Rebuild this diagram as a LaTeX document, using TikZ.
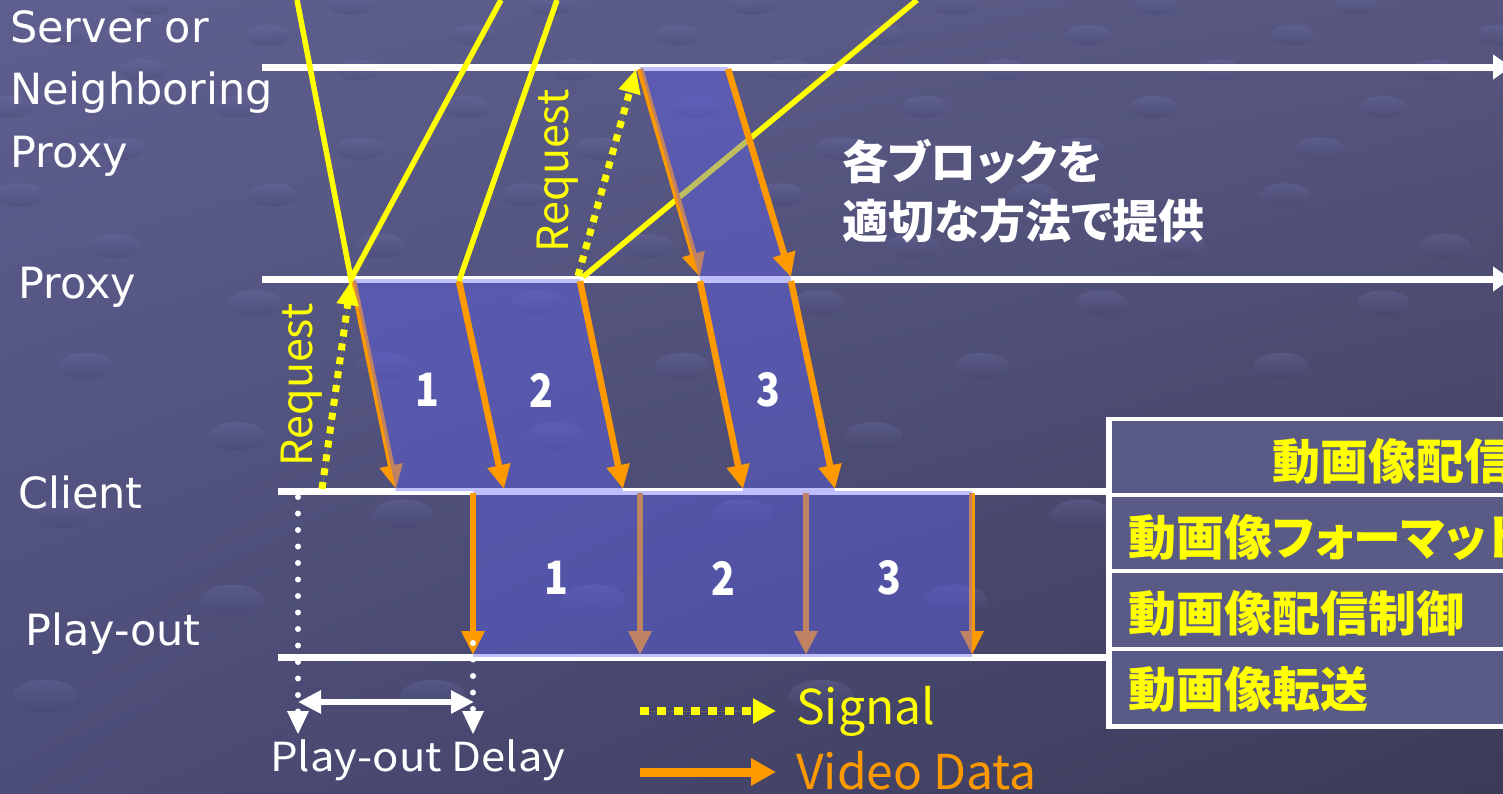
\documentclass[tikz,border=0pt]{standalone}
\usepackage{fontspec}
\setmainfont{DejaVu Sans}
\newfontfamily\jp{Noto Sans CJK JP}[RawFeature=+palt]
\usetikzlibrary{arrows.meta,calc,shadings}
\definecolor{bgUL}{HTML}{5E5F8F}
\definecolor{bgUR}{HTML}{56567F}
\definecolor{bgLL}{HTML}{4C4C78}
\definecolor{bgLR}{HTML}{3B3B58}
\definecolor{blk}{RGB}{97,97,245}
\definecolor{org}{HTML}{FF9900}
\definecolor{ylw}{HTML}{FFFF00}
\definecolor{rowfill}{RGB}{90,90,135}
\definecolor{dotlt}{HTML}{7476B0}
\definecolor{dotdk}{HTML}{40406A}
\tikzset{
  wline/.style={draw=white, line width=7pt},
  warr/.style={wline, -{Triangle[width=24pt,length=18pt]}},
  yline/.style={draw=ylw, line width=5.5pt},
  ysig/.style={draw=ylw, fill=ylw, line width=7pt, dash pattern=on 7pt off 7pt, -{Triangle[width=21pt,length=24pt]}},
  oarr/.style={draw=org, fill=org, line width=6.5pt, -{Triangle[width=22pt,length=24pt]}},
  blockfill/.style={fill=blk, fill opacity=0.4, draw=none},
  wdot/.style={draw=white, line width=6pt, line cap=round, dash pattern=on 0pt off 16.5pt},
  lbl/.style={text=white, font=\fontsize{43}{43}\selectfont, inner sep=0pt, anchor=base west},
  jtxt/.style={inner sep=0pt, font=\jp\fontsize{48}{48}\selectfont},
  num/.style={inner sep=0pt, text=white, font=\jp\bfseries\fontsize{46}{46}\selectfont, xscale=0.85},
  rowtxt/.style={inner sep=0pt, anchor=west, text=ylw, font=\jp\bfseries\fontsize{48}{48}\selectfont},
  rowbox/.style={fill=rowfill, draw=none},
  dotshape/.style={top color=dotlt, bottom color=dotdk, opacity=0.3}
}
\begin{document}
\begin{tikzpicture}[x=1pt,y=-1pt]
\useasboundingbox (0,0) rectangle (1503,793);
\clip (0,0) rectangle (1503,793);
% background
\shade[upper left=bgUL, upper right=bgUR, lower left=bgLL, lower right=bgLR] (0,0) rectangle (1503,793);
\foreach \yy/\ss/\ph in {5/201/150, 35/205/63, 70/215/143, 107/229/9, 149/240/120, 195/253/20, 246/266/115, 303/282/255, 366/299/85, 436/318/237, 514/339/64, 600/362/232, 696/388/45}{
  \pgfmathsetmacro\rx{22+0.015*\yy}
  \pgfmathsetmacro\ry{10+0.009*\yy}
  \foreach \n in {0,...,8}{
    \pgfmathsetmacro\xx{\ph+\n*\ss}
    \shade[dotshape] (\xx,\yy) ellipse [x radius=\rx pt, y radius=\ry pt];
  }
}
% coordinates
\coordinate (sL) at (262,67);  \coordinate (sR) at (1511,67);
\coordinate (pL) at (262,279); \coordinate (pR) at (1511,279);
\coordinate (cL) at (278,491); \coordinate (cR) at (1107,491);
\coordinate (oL) at (278,657); \coordinate (oR) at (1107,657);
% block corners
\coordinate (s1) at (640,67);  \coordinate (s2) at (728,67);
\coordinate (p1) at (353,279); \coordinate (p2) at (459,279); \coordinate (p3) at (580,279);
\coordinate (p4) at (700,279); \coordinate (p5) at (791,279);
\coordinate (c1) at (396,491); \coordinate (c2) at (504,491); \coordinate (c3) at (623,491);
\coordinate (c4) at (743,491); \coordinate (c5) at (835,491);
\coordinate (d1) at (473,491); \coordinate (d2) at (640,491); \coordinate (d3) at (806,491); \coordinate (d4) at (972,491);
\coordinate (e1) at (473,657); \coordinate (e2) at (640,657); \coordinate (e3) at (806,657); \coordinate (e4) at (972,657);
% timelines
\draw[warr] (sL) -- (sR);
\draw[warr] (pL) -- (pR);
\draw[wline] (cL) -- (cR);
\draw[wline] (oL) -- (oR);
% yellow line passing under block
\coordinate (yD0) at (583,277); \coordinate (yD1) at (917,0);
\draw[yline] (yD0) -- (yD1);
% arrows lying under blocks
\draw[oarr] ($(p1)+(0,2)$) -- ($(c1)+(0,-2)$);
\draw[oarr] ($(s1)+(0,2)$) -- ($(p4)+(0,-2)$);
\draw[oarr] ($(d2)+(0,2)$) -- ($(e2)+(0,-2)$);
\draw[oarr] ($(d3)+(0,2)$) -- ($(e3)+(0,-2)$);
\draw[oarr] ($(d4)+(0,2)$) -- ($(e4)+(0,-2)$);
% blocks
\path[blockfill] (s1) -- (s2) -- (p5) -- (p4) -- cycle;
\path[blockfill] (p1) -- (p2) -- (c2) -- (c1) -- cycle;
\path[blockfill] (p2) -- (p3) -- (c3) -- (c2) -- cycle;
\path[blockfill] (p4) -- (p5) -- (c5) -- (c4) -- cycle;
\path[blockfill] (d1) rectangle (e2);
\path[blockfill] (d2) rectangle (e3);
\path[blockfill] (d3) rectangle (e4);
% arrows over blocks
\draw[oarr] ($(p2)+(0,2)$) -- ($(c2)+(0,-2)$);
\draw[oarr] ($(p3)+(0,2)$) -- ($(c3)+(0,-2)$);
\draw[oarr] ($(s2)+(0,2)$) -- ($(p5)+(0,-2)$);
\draw[oarr] ($(p4)+(0,2)$) -- ($(c4)+(0,-2)$);
\draw[oarr] ($(p5)+(0,2)$) -- ($(c5)+(0,-2)$);
\draw[oarr] ($(d1)+(0,2)$) -- ($(e1)+(0,-2)$);
% yellow lines
\coordinate (yA0) at (297,0); \coordinate (yJ) at (351,279);
\coordinate (yB1) at (501,0);
\coordinate (yC0) at (459,281); \coordinate (yC1) at (557,0);
\draw[yline] (yA0) -- (yJ) -- (yB1);
\draw[yline] (yC0) -- (yC1);
% request signals
\coordinate (r1a) at (322,489); \coordinate (r1b) at (351,281);
\coordinate (r2a) at (578,276); \coordinate (r2b) at (636,69);
\draw[ysig] (r1a) -- (r1b);
\draw[ysig] (r2a) -- (r2b);
\node[jtxt, text=ylw, rotate=90, font=\jp\fontsize{43}{43}\selectfont] (req1) at (302,385) {Request};
\node[jtxt, text=ylw, rotate=90, font=\jp\fontsize{43}{43}\selectfont] (req2) at (558,171) {Request};
% block numbers
\node[num] (n1) at (427,390) {1};
\node[num] (n2) at (541,390) {2};
\node[num] (n3) at (768,390) {3};
\node[num] (m1) at (556,578) {1};
\node[num] (m2) at (723,578) {2};
\node[num] (m3) at (889,578) {3};
% left labels
\node[lbl] (srv1) at (10,42) {Server or};
\node[lbl] (srv2) at (10,104) {Neighboring};
\node[lbl] (srv3) at (10,167) {Proxy};
\node[lbl] (prx) at (18,298) {Proxy};
\node[lbl] (cli) at (18,508) {Client};
\node[lbl] (ply) at (25,645) {Play-out};
% japanese note
\node[inner sep=0pt, anchor=west, text=white, font=\jp\bfseries\fontsize{46}{46}\selectfont] (note1) at (842,162) {各ブロックを};
\node[inner sep=0pt, anchor=west, text=white, font=\jp\bfseries\fontsize{46}{46}\selectfont] (note2) at (842,221) {適切な方法で提供};
% play-out delay
\coordinate (dlA) at (298,497); \coordinate (dlB) at (298,734);
\coordinate (drA) at (473,643); \coordinate (drB) at (473,734);
\draw[wdot] (dlA) -- ($(dlB)+(0,-22)$);
\draw[wdot] (drA) -- ($(drB)+(0,-22)$);
\fill[white] (dlB) -- ++(-11,-23) -- ++(22,0) -- cycle;
\fill[white] (drB) -- ++(-11,-23) -- ++(22,0) -- cycle;
\coordinate (hA) at (298,702); \coordinate (hB) at (474,702);
\draw[draw=white, line width=6pt, {Triangle[width=22pt,length=23pt]}-{Triangle[width=22pt,length=23pt]}] (hA) -- (hB);
\node[jtxt, anchor=west, text=white, font=\jp\fontsize{40}{40}\selectfont, xscale=1.09] (pod) at (270,760) {Play-out Delay};
% table
\fill[white] (1106,417) rectangle (1515,729);
\path[rowbox] (1112,421) rectangle (1515,493);
\path[rowbox] (1112,497) rectangle (1515,569);
\path[rowbox] (1112,573) rectangle (1515,647);
\path[rowbox] (1112,651) rectangle (1515,724);
\node[rowtxt] (t1) at (1272,461) {動画像配信};
\node[rowtxt] (t2) at (1128,537) {動画像フォーマット};
\node[rowtxt] (t3) at (1128,613) {動画像配信制御};
\node[rowtxt] (t4) at (1128,689) {動画像転送};
% legend
\coordinate (lsA) at (640,711); \coordinate (lsB) at (776,711);
\coordinate (loA) at (640,772); \coordinate (loB) at (776,772);
\draw[draw=ylw, fill=ylw, line width=8pt, dash pattern=on 9pt off 8pt, -{Triangle[width=24pt,length=23pt]}] (lsA) -- (lsB);
\draw[draw=org, fill=org, line width=9pt, -{Triangle[width=26pt,length=25pt]}] (loA) -- (loB);
\node[jtxt, anchor=west, text=ylw] (sig) at (796,711) {Signal};
\node[jtxt, anchor=west, text=org] (vid) at (796,771) {Video Data};
\end{tikzpicture}
\end{document}
